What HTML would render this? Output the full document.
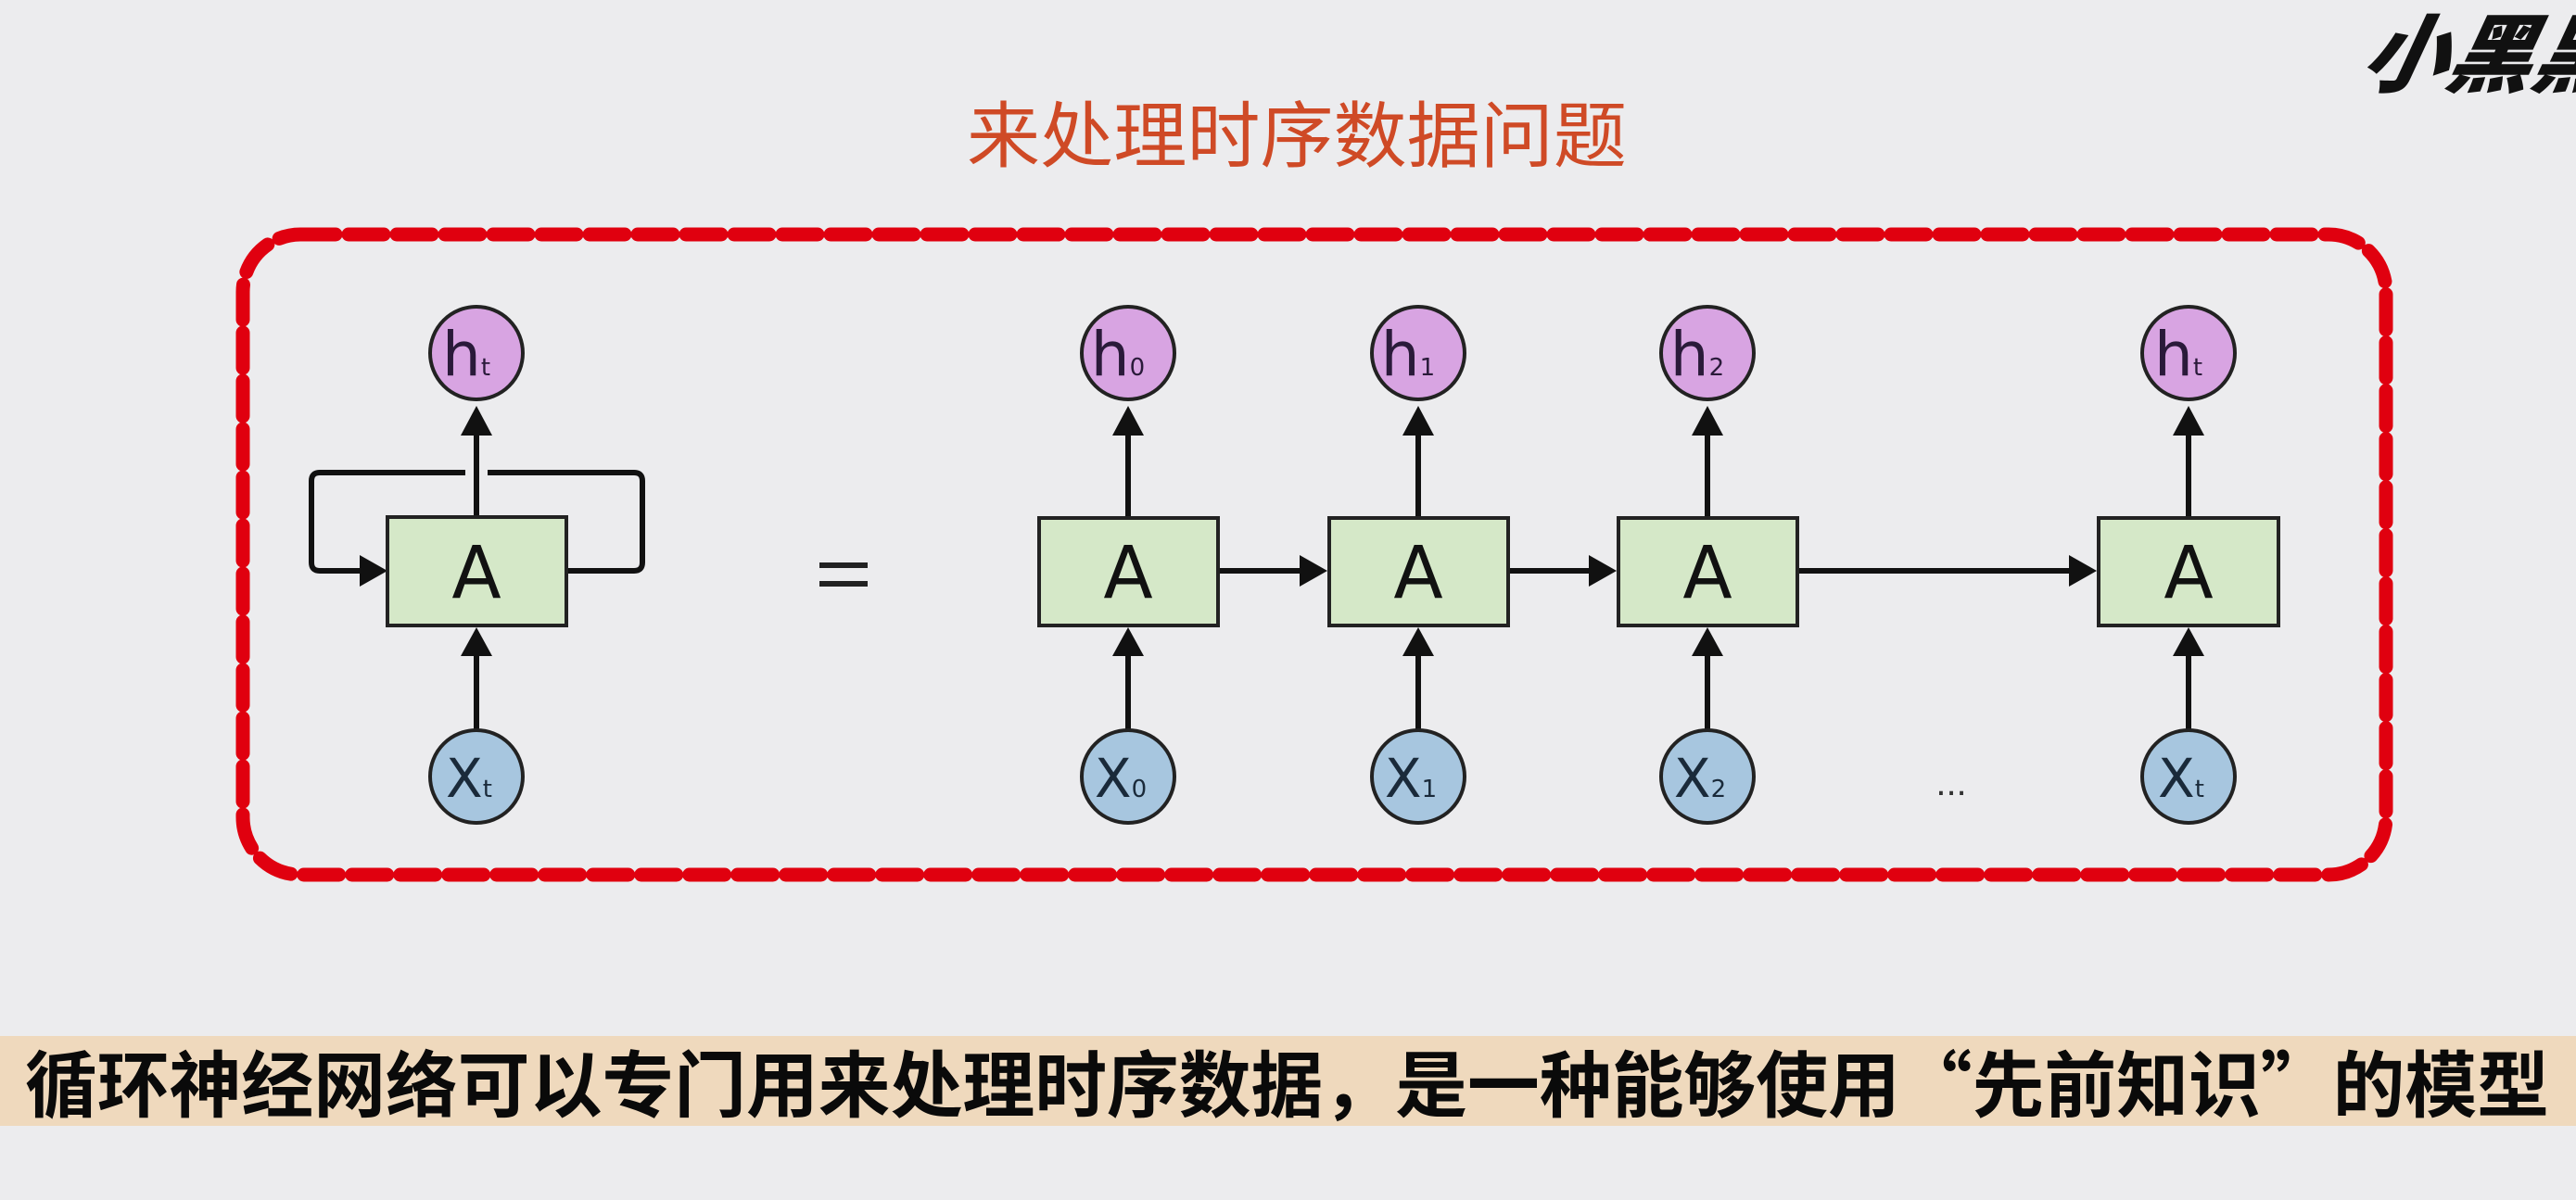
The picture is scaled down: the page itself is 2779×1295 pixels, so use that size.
<!DOCTYPE html>
<html><head><meta charset="utf-8"><style>
html,body{margin:0;padding:0;background:#ececee;}
svg{display:block;}
</style></head><body>
<svg width="2779" height="1295" viewBox="0 0 2779 1295" xmlns="http://www.w3.org/2000/svg">
<rect x="0" y="0" width="2779" height="1295" fill="#ececee"/>
<defs>
<marker id="ah" markerWidth="10" markerHeight="10" refX="9" refY="5" orient="auto" markerUnits="userSpaceOnUse" viewBox="0 0 10 10">
</marker>
</defs>
<!-- logo -->
<text x="2545" y="92" font-family="'Noto Sans CJK SC',sans-serif" font-weight="900" font-size="92" fill="#111" font-style="italic" transform="skewX(-12) translate(18,0)">小黑黑</text>
<!-- title -->
<text x="1399" y="174" text-anchor="middle" font-family="'Liberation Sans','Noto Sans CJK SC',sans-serif" font-size="78" fill="#cf4a26" textLength="712" lengthAdjust="spacingAndGlyphs">来处理时序数据问题</text>
<!-- dashed frame -->
<rect x="262" y="253" width="2312" height="691" rx="62" ry="62" fill="none" stroke="#e0000f" stroke-width="15" stroke-dasharray="38 14" stroke-linecap="round"/>

<g stroke="#111" stroke-width="6" fill="none">
<!-- left loop -->
<path d="M611 616 H684 Q693 616 693 607 V519 Q693 510 684 510 H526 M502 510 H345 Q336 510 336 519 V607 Q336 616 345 616 H390"/>
<!-- verticals -->
<line x1="514" y1="556" x2="514" y2="466"/>
<line x1="514" y1="792" x2="514" y2="704"/>
<line x1="1217" y1="559" x2="1217" y2="466"/><line x1="1217" y1="792" x2="1217" y2="704"/>
<line x1="1530" y1="559" x2="1530" y2="466"/><line x1="1530" y1="792" x2="1530" y2="704"/>
<line x1="1842" y1="559" x2="1842" y2="466"/><line x1="1842" y1="792" x2="1842" y2="704"/>
<line x1="2361" y1="559" x2="2361" y2="466"/><line x1="2361" y1="792" x2="2361" y2="704"/>
<!-- horizontals -->
<line x1="1314" y1="616" x2="1404" y2="616"/>
<line x1="1627" y1="616" x2="1716" y2="616"/>
<line x1="1939" y1="616" x2="2234" y2="616"/>
</g>
<g fill="#111">
<polygon points="388,599 388,633 418,616"/>
<polygon points="1402,599 1402,633 1432,616"/>
<polygon points="1714,599 1714,633 1744,616"/>
<polygon points="2232,599 2232,633 2262,616"/>
<!-- up arrows -->
<g id="ups">
<polygon points="497,470 531,470 514,438"/>
<polygon points="497,708 531,708 514,677"/>
</g>
<polygon points="1200,470 1234,470 1217,438"/><polygon points="1200,708 1234,708 1217,677"/>
<polygon points="1513,470 1547,470 1530,438"/><polygon points="1513,708 1547,708 1530,677"/>
<polygon points="1825,470 1859,470 1842,438"/><polygon points="1825,708 1859,708 1842,677"/>
<polygon points="2344,470 2378,470 2361,438"/><polygon points="2344,708 2378,708 2361,677"/>
</g>

<!-- boxes -->
<g fill="#d5e8c8" stroke="#222" stroke-width="4">
<rect x="418" y="558" width="193" height="117"/>
<rect x="1121" y="559" width="193" height="116"/>
<rect x="1434" y="559" width="193" height="116"/>
<rect x="1746" y="559" width="193" height="116"/>
<rect x="2264" y="559" width="194" height="116"/>
</g>
<g font-family="'DejaVu Sans','Liberation Sans',sans-serif" font-size="78" fill="#111" text-anchor="middle">
<text x="514" y="645">A</text>
<text x="1217" y="645">A</text>
<text x="1530" y="645">A</text>
<text x="1842" y="645">A</text>
<text x="2361" y="645">A</text>
</g>
<!-- circles -->
<g stroke="#222" stroke-width="4">
<g fill="#d8a4e2">
<circle cx="514" cy="381" r="50"/><circle cx="1217" cy="381" r="50"/><circle cx="1530" cy="381" r="50"/><circle cx="1842" cy="381" r="50"/><circle cx="2361" cy="381" r="50"/>
</g>
<g fill="#a7c6df">
<circle cx="514" cy="838" r="50"/><circle cx="1217" cy="838" r="50"/><circle cx="1530" cy="838" r="50"/><circle cx="1842" cy="838" r="50"/><circle cx="2361" cy="838" r="50"/>
</g>
</g>
<g font-family="'DejaVu Sans','Liberation Sans',sans-serif" fill="#2a1a3a">
<text x="503" y="405" font-size="66" text-anchor="middle">h<tspan font-size="26">t</tspan></text>
<text x="1206" y="405" font-size="66" text-anchor="middle">h<tspan font-size="26">0</tspan></text>
<text x="1519" y="405" font-size="66" text-anchor="middle">h<tspan font-size="26">1</tspan></text>
<text x="1831" y="405" font-size="66" text-anchor="middle">h<tspan font-size="26">2</tspan></text>
<text x="2350" y="405" font-size="66" text-anchor="middle">h<tspan font-size="26">t</tspan></text>
</g>
<g font-family="'DejaVu Sans','Liberation Sans',sans-serif" fill="#1a2a3a">
<text x="506" y="860" font-size="58" text-anchor="middle">X<tspan font-size="26">t</tspan></text>
<text x="1209" y="860" font-size="58" text-anchor="middle">X<tspan font-size="26">0</tspan></text>
<text x="1522" y="860" font-size="58" text-anchor="middle">X<tspan font-size="26">1</tspan></text>
<text x="1834" y="860" font-size="58" text-anchor="middle">X<tspan font-size="26">2</tspan></text>
<text x="2353" y="860" font-size="58" text-anchor="middle">X<tspan font-size="26">t</tspan></text>
</g>
<!-- equals -->
<rect x="884" y="607" width="52" height="6" fill="#222"/>
<rect x="884" y="627" width="52" height="6" fill="#222"/>
<!-- dots -->
<text x="2105" y="858" text-anchor="middle" font-family="'Liberation Sans',sans-serif" font-size="40" fill="#333">...</text>

<!-- bottom band -->
<rect x="0" y="1118" width="2779" height="97" fill="#efd9bd"/>
<text x="27" y="1199" font-family="'Noto Sans CJK SC',sans-serif" font-weight="bold" font-size="78" fill="#0a0a0a" textLength="2723" lengthAdjust="spacingAndGlyphs">循环神经网络可以专门用来处理时序数据，是一种能够使用“先前知识”的模型</text>
</svg>
</body></html>
